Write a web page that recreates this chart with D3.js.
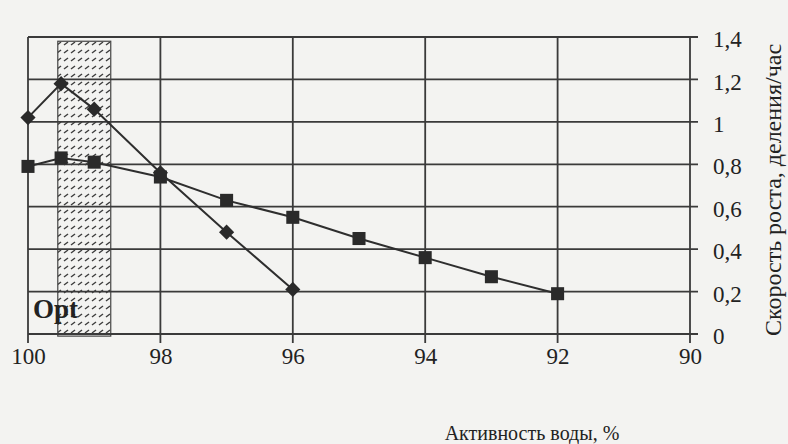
<!DOCTYPE html>
<html>
<head>
<meta charset="utf-8">
<script src="https://cdn.jsdelivr.net/npm/d3@7"></script>
<style>
  body { margin: 0; background: #f3f3f1; }
  svg { display: block; }
  text { font-family: "Liberation Serif", "DejaVu Serif", serif; fill: #222; }
</style>
</head>
<body>
<div id="chart"></div>
<script>
// water activity, % (x) and growth rate, divisions/hour (y)
const xTicks = [100, 98, 96, 94, 92, 90];
const yTicks = [0, 0.2, 0.4, 0.6, 0.8, 1, 1.2, 1.4];
const yTickLabels = ['0', '0,2', '0,4', '0,6', '0,8', '1', '1,2', '1,4'];

const diamondX = [100, 99.5, 99, 98, 97, 96];
const diamondY = [1.02, 1.18, 1.06, 0.76, 0.48, 0.21];

const squareX = [100, 99.5, 99, 98, 97, 96, 95, 94, 93, 92];
const squareY = [0.79, 0.83, 0.81, 0.74, 0.63, 0.55, 0.45, 0.36, 0.27, 0.19];

const optRange = [99.55, 98.75];

const xTitle = 'Активность воды, %';
const yTitle = 'Скорость роста, деления/час';

const W = 788, H = 444;
const plotL = 28, plotR = 690, plotT = 37, plotB = 334;
const serif = '"Liberation Serif", "DejaVu Serif", serif';

const svg = d3.select('#chart').append('svg')
  .attr('width', W)
  .attr('height', H);

const x = d3.scaleLinear().domain([100, 90]).range([plotL, plotR]);
const y = d3.scaleLinear().domain([0, 1.4]).range([plotB, plotT]);

// hatch for the optimum band
const defs = svg.append('defs');
const pat = defs.append('pattern')
  .attr('id', 'hatch')
  .attr('patternUnits', 'userSpaceOnUse')
  .attr('width', 7)
  .attr('height', 8);
pat.append('rect').attr('width', 7).attr('height', 8).attr('fill', '#f3f3f1');
pat.append('line')
  .attr('x1', 1).attr('y1', 5).attr('x2', 5).attr('y2', 2)
  .attr('stroke', '#3c3c3c').attr('stroke-width', 1.4);

svg.append('rect')
  .attr('x', x(optRange[0]))
  .attr('y', y(1.38))
  .attr('width', x(optRange[1]) - x(optRange[0]))
  .attr('height', y(-0.01) - y(1.38))
  .attr('fill', 'url(#hatch)')
  .attr('stroke', '#444')
  .attr('stroke-width', 1.2);

// grid: horizontal lines run a little past the right edge, vertical a little below
const grid = svg.append('g').attr('stroke', '#3a3a3a').attr('stroke-width', 1.8);
grid.selectAll('.h').data(yTicks).join('line')
  .attr('x1', plotL).attr('x2', plotR + 8)
  .attr('y1', d => y(d)).attr('y2', d => y(d));
grid.selectAll('.v').data(xTicks).join('line')
  .attr('x1', d => x(d)).attr('x2', d => x(d))
  .attr('y1', plotT).attr('y2', plotB + 9);

// axes for labels only
const xAxis = d3.axisBottom(x).tickValues(xTicks).tickSize(0).tickPadding(0)
  .tickFormat(d => d);
svg.append('g')
  .attr('transform', `translate(0,${plotB + 30})`)
  .call(xAxis)
  .attr('font-family', serif)
  .attr('font-size', 23)
  .call(g => g.select('.domain').remove())
  .selectAll('text')
  .attr('dy', 0)
  .attr('fill', '#222');

const yAxis = d3.axisRight(y).tickValues(yTicks).tickSize(0).tickPadding(0)
  .tickFormat((d, i) => yTickLabels[i]);
svg.append('g')
  .attr('transform', `translate(${plotR + 23},0)`)
  .call(yAxis)
  .attr('font-family', serif)
  .attr('font-size', 23)
  .call(g => g.select('.domain').remove())
  .selectAll('text')
  .attr('dy', '0.42em')
  .attr('fill', '#222');

// lines
const diamonds = diamondX.map((d, i) => ({ x: d, y: diamondY[i] }));
const squares = squareX.map((d, i) => ({ x: d, y: squareY[i] }));

const line = d3.line().x(d => x(d.x)).y(d => y(d.y));

svg.append('path').datum(squares)
  .attr('d', line).attr('fill', 'none')
  .attr('stroke', '#2e2e2e').attr('stroke-width', 2);
svg.append('path').datum(diamonds)
  .attr('d', line).attr('fill', 'none')
  .attr('stroke', '#2e2e2e').attr('stroke-width', 2);

// markers
svg.selectAll('.sq').data(squares).join('path')
  .attr('d', d3.symbol(d3.symbolSquare, 170)())
  .attr('transform', d => `translate(${x(d.x)},${y(d.y)})`)
  .attr('fill', '#2a2a2a');

svg.selectAll('.dm').data(diamonds).join('path')
  .attr('d', d3.symbol(d3.symbolSquare, 115)())
  .attr('transform', d => `translate(${x(d.x)},${y(d.y)}) rotate(45)`)
  .attr('fill', '#2a2a2a');

// Opt label
svg.append('text')
  .attr('x', 33).attr('y', 318)
  .style('font-size', '27px')
  .style('font-weight', 'bold')
  .text('Opt');

// titles
svg.append('text')
  .attr('x', 532).attr('y', 440)
  .attr('text-anchor', 'middle')
  .style('font-size', '20px')
  .text(xTitle);

svg.append('text')
  .attr('transform', 'translate(781,190) rotate(-90)')
  .attr('text-anchor', 'middle')
  .style('font-size', '24px')
  .text(yTitle);
</script>
</body>
</html>
